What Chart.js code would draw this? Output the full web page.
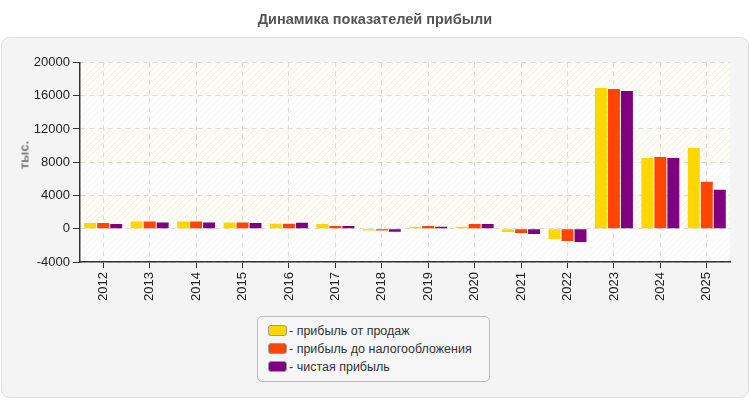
<!DOCTYPE html>
<html>
<head>
<meta charset="utf-8">
<script src="https://cdn.jsdelivr.net/npm/chart.js@4"></script>
<style>
    body { margin: 0; background: #fff; font-family: 'Liberation Sans', Arial, sans-serif; }
    #wrap { position: relative; width: 750px; height: 400px; }
    #legend {
        position: absolute; left: 257px; top: 316px; width: 231px; height: 64px;
        border: 1px solid #bbb; border-radius: 5px; background: #f6f6f6;
    }
    .item { position: absolute; left: 10px; height: 18px; line-height: 18px; font-size: 12.5px; color: #333; white-space: nowrap; }
    .swatch { display: inline-block; width: 17px; height: 9px; border: 1px solid #999; border-radius: 3px; vertical-align: -1px; margin-right: 2px; }
    #ytitle {
        position: absolute; left: 24px; top: 155px; transform: translate(-50%, -50%) rotate(-90deg);
        font-size: 13px; font-weight: bold; color: #777; white-space: nowrap;
    }
</style>
</head>
<body>
<div id="wrap">
    <canvas id="chart" width="750" height="400"></canvas>
    <div id="ytitle">тыс.</div>
    <div id="legend"></div>
</div>
<script>
// ============================================
// Data
// ============================================
var years = ['2012', '2013', '2014', '2015', '2016', '2017', '2018', '2019', '2020', '2021', '2022', '2023', '2024', '2025'];
var salesProfit = [680, 880, 880, 760, 600, 560, -200, 240, 240, -400, -1240, 16920, 8520, 9720];
var pretaxProfit = [680, 880, 880, 760, 600, 320, -200, 320, 560, -520, -1480, 16800, 8640, 5640];
var netProfit = [560, 760, 760, 680, 720, 320, -350, 240, 560, -640, -1600, 16560, 8520, 4680];
var seriesNames = ['прибыль от продаж', 'прибыль до налогообложения', 'чистая прибыль'];
var seriesColors = ['#ffd700', '#ff4500', '#800080'];

// ============================================
// Background: panel + banded, hatched plot area
// ============================================
function makeHatch() {
    var c = document.createElement('canvas');
    c.width = 6; c.height = 6;
    var g = c.getContext('2d');
    g.strokeStyle = 'rgba(0,0,0,0.05)';
    g.lineWidth = 1;
    g.beginPath();
    g.moveTo(0, 6); g.lineTo(6, 0);
    g.moveTo(-1, 1); g.lineTo(1, -1);
    g.moveTo(5, 7); g.lineTo(7, 5);
    g.stroke();
    return c;
}

var backgroundPlugin = {
    id: 'background',
    beforeDraw: function(chart) {
        var ctx = chart.ctx;
        var area = chart.chartArea;
        var y = chart.scales.y;
        ctx.save();
        ctx.fillStyle = '#fff';
        ctx.fillRect(0, 0, chart.width, chart.height);

        ctx.beginPath();
        ctx.roundRect(1.5, 37.5, 747, 360, 8);
        ctx.fillStyle = '#f4f4f4';
        ctx.fill();
        ctx.strokeStyle = '#dedede';
        ctx.lineWidth = 1;
        ctx.stroke();

        var pattern = ctx.createPattern(makeHatch(), 'repeat');
        var ticks = y.ticks.map(function(t) { return t.value; }).sort(function(a, b) { return b - a; });
        for (var i = 0; i < ticks.length - 1; i++) {
            var top = y.getPixelForValue(ticks[i]);
            var bottom = y.getPixelForValue(ticks[i + 1]);
            ctx.fillStyle = (i % 2 === 0) ? '#fdfdf6' : '#ffffff';
            ctx.fillRect(area.left, top, area.right - area.left, bottom - top);
            ctx.fillStyle = pattern;
            ctx.fillRect(area.left, top, area.right - area.left, bottom - top);
        }
        ctx.restore();
    }
};

// ============================================
// Chart
// ============================================
var datasets = [salesProfit, pretaxProfit, netProfit].map(function(values, i) {
    return {
        label: seriesNames[i],
        data: values,
        backgroundColor: seriesColors[i],
        borderWidth: 0,
        categoryPercentage: 0.84,
        barPercentage: 0.92
    };
});

var chart = new Chart(document.getElementById('chart'), {
    type: 'bar',
    data: { labels: years, datasets: datasets },
    plugins: [backgroundPlugin],
    options: {
        responsive: false,
        animation: false,
        layout: { padding: { left: 10, right: 10, top: 0, bottom: 0 } },
        plugins: {
            legend: { display: false },
            tooltip: { enabled: false },
            title: {
                display: true,
                text: 'Динамика показателей прибыли',
                color: '#555',
                font: { family: "'Liberation Sans', Arial, sans-serif", size: 14.5, weight: 'bold' },
                padding: { top: 11, bottom: 34 }
            }
        },
        scales: {
            x: {
                grid: { offset: false, color: '#dcdcdc', tickColor: '#333', tickLength: 6 },
                border: { color: '#333', width: 1.5, dash: [5, 4] },
                ticks: {
                    color: '#222', minRotation: 90, maxRotation: 90, padding: 4,
                    font: { family: "'Liberation Sans', Arial, sans-serif", size: 13 }
                },
                afterFit: function(scale) { scale.height = 138; }
            },
            y: {
                min: -4000,
                max: 20000,
                grid: { color: '#dcdcdc', tickColor: '#333', tickLength: 7 },
                border: { color: '#333', width: 1.5, dash: [5, 4] },
                ticks: {
                    stepSize: 4000, color: '#222', padding: 3,
                    font: { family: "'Liberation Sans', Arial, sans-serif", size: 13 },
                    callback: function(value) { return String(value); }
                },
                afterFit: function(scale) { scale.width = 70; }
            },
            // empty spacer on the right so the plot ends where the reference does
            yRight: {
                position: 'right',
                min: -4000,
                max: 20000,
                grid: { display: false },
                border: { display: false },
                ticks: { display: false },
                afterFit: function(scale) { scale.width = 10; }
            }
        }
    }
});

// ============================================
// Legend (vertical box under the chart)
// ============================================
var legend = document.getElementById('legend');
chart.data.datasets.forEach(function(ds, i) {
    var item = document.createElement('div');
    item.className = 'item';
    item.style.top = (5 + i * 18) + 'px';
    var sw = document.createElement('span');
    sw.className = 'swatch';
    sw.style.background = ds.backgroundColor;
    item.appendChild(sw);
    item.appendChild(document.createTextNode('- ' + ds.label));
    legend.appendChild(item);
});
</script>
</body>
</html>
